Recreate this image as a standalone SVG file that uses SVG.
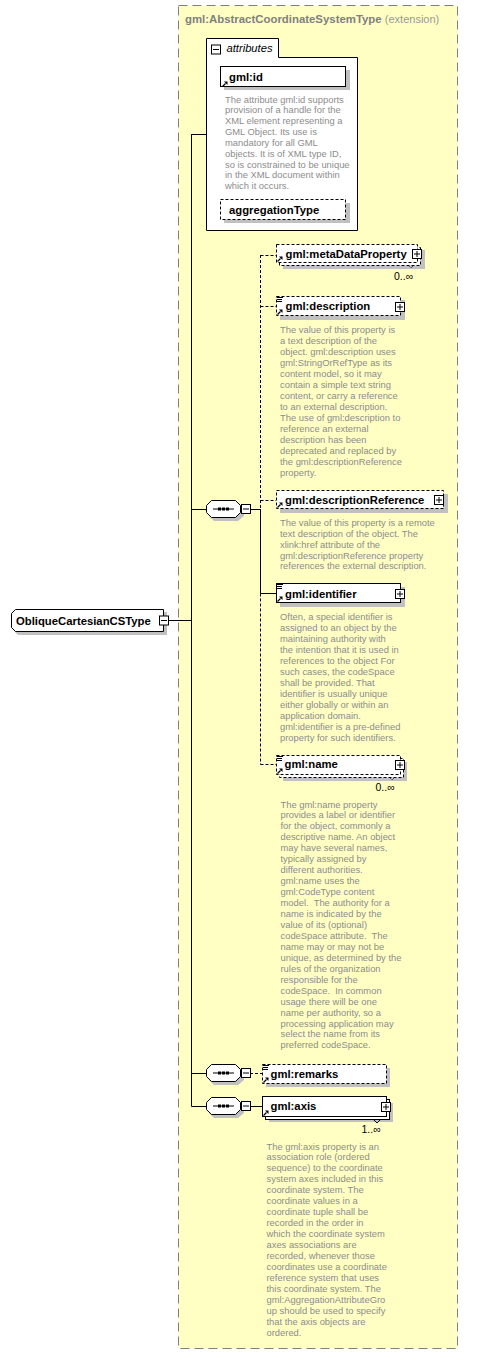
<svg xmlns="http://www.w3.org/2000/svg" xmlns:xlink="http://www.w3.org/1999/xlink" width="492" height="1355" viewBox="0 0 492 1355">
<style>
.doc{font-family:"Liberation Sans",Arial,sans-serif;font-size:9.4px;fill:#8c8c8c}
.lbl{font-family:"Liberation Sans",Arial,sans-serif;font-weight:bold;font-size:11.3px;fill:#000}
.mult{font-family:"Liberation Sans",Arial,sans-serif;font-size:10.5px;fill:#000}
.box{fill:#fff;stroke:#000;stroke-width:1}
.dbox{fill:#fff;stroke:#000;stroke-width:1;stroke-dasharray:3,2}
.sh{fill:#c0c0c0}
.ln{stroke:#000;stroke-width:1;fill:none}
.dl{stroke:#000;stroke-width:1;fill:none;stroke-dasharray:3,2}
</style>
<defs>
<g id="refArrow"><path d="M0.5 5.5 L3.5 2.5" stroke="#000" stroke-width="1.3"/><path d="M2 0.5 L5.5 0.5 L5.5 4 Z" fill="#000"/></g>
<g id="docIcon"><path d="M0 0.5h6M0 2.5h5M0 4.5h5" stroke="#000" stroke-width="1"/></g>
<g id="plus"><rect x="0.5" y="0.5" width="9" height="9" fill="#fff" stroke="#000"/><path d="M2 5h6M5 2v6" stroke="#000"/></g>
<g id="minus"><rect x="0.5" y="0.5" width="9" height="9" fill="#fff" stroke="#000"/><path d="M2 5h6" stroke="#000"/></g>
<g id="seq">
<polygon class="sh" points="8,3 32,3 38,8 38,16 32,21 8,21 3,16 3,8"/>
<polygon class="box" points="5.5,0.5 29.5,0.5 34.5,5.5 34.5,12.5 29.5,17.5 5.5,17.5 0.5,12.5 0.5,5.5"/>
<path d="M7 9H28" stroke="#000"/>
<rect x="12" y="7.5" width="3" height="3" fill="#000"/><rect x="16" y="7.5" width="3" height="3" fill="#000"/><rect x="20" y="7.5" width="3" height="3" fill="#000"/>
<use xlink:href="#minus" x="35" y="4"/>
</g>
</defs>

<g id="extension">
<rect x="178.5" y="5.5" width="279" height="1343" fill="#ffffc4" stroke="#808080" stroke-dasharray="9,5"/>
<text x="185" y="23" font-family="'Liberation Sans',Arial,sans-serif" font-size="11.4px" font-weight="bold" fill="#808080">gml:AbstractCoordinateSystemType <tspan font-weight="normal" font-size="11px" fill="#999">(extension)</tspan></text>
</g>

<g id="connectors">
<path class="ln" d="M168 620.5H191.5M191.5 134V1106.5M191.5 134.5H206M191.5 509.5H206M191.5 1073.5H206M191.5 1106.5H206"/>
<path class="ln" d="M250 509.5H260.5M260.5 509V593.5M260.5 593.5H276"/>
<path class="dl" d="M260.5 255V509M260.5 593.5V764.5"/>
<path class="dl" d="M260.5 255.5H276M260.5 306.5H276M260.5 500.5H276M260.5 764.5H276"/>
<path class="dl" d="M250 1073.5H262"/>
<path class="ln" d="M250 1106.5H262"/>
</g>

<g id="ObliqueCartesianCSType">
<polygon class="sh" points="18,612 167,612 167,635 18,635 14,631 14,616"/>
<polygon class="box" points="15.5,609.5 163.5,609.5 163.5,631.5 15.5,631.5 11.5,627.5 11.5,613.5"/>
<text class="lbl" x="16" y="624.5">ObliqueCartesianCSType</text>
<use xlink:href="#minus" x="159" y="615.5"/>
</g>

<g id="attributes">
<polygon class="box" points="206.5,38.5 278.5,38.5 278.5,57.5 357.5,57.5 357.5,230.5 206.5,230.5"/>
<use xlink:href="#minus" x="211" y="44.5"/>
<text x="226.5" y="52" font-family="'Liberation Sans',Arial,sans-serif" font-size="11.2px" font-style="italic" fill="#000">attributes</text>
</g>

<g id="gml_id">
<rect class="sh" x="224" y="70" width="126" height="20"/>
<rect class="box" x="220.5" y="66.5" width="125" height="20"/>
<use xlink:href="#refArrow" x="222" y="81"/>
<text class="lbl" x="229" y="80.5">gml:id</text>
<text class="doc" x="225" y="102.5"><tspan x="225">The attribute gml:id supports</tspan><tspan x="225" dy="10.85">provision of a handle for the</tspan><tspan x="225" dy="10.85">XML element representing a</tspan><tspan x="225" dy="10.85">GML Object. Its use is</tspan><tspan x="225" dy="10.85">mandatory for all GML</tspan><tspan x="225" dy="10.85">objects. It is of XML type ID,</tspan><tspan x="225" dy="10.85">so is constrained to be unique</tspan><tspan x="225" dy="10.85">in the XML document within</tspan><tspan x="225" dy="10.85">which it occurs.</tspan></text>
</g>

<g id="aggregationType">
<rect class="sh" x="224" y="203" width="126" height="20"/>
<rect class="dbox" x="220.5" y="199.5" width="125" height="20"/>
<text class="lbl" x="229" y="213.5">aggregationType</text>
</g>

<g id="sequence1"><use xlink:href="#seq" x="206" y="500"/></g>
<g id="sequence2"><use xlink:href="#seq" x="206" y="1064"/></g>
<g id="sequence3"><use xlink:href="#seq" x="206" y="1097"/></g>

<g id="metaDataProperty">
<rect class="sh" x="283" y="250" width="142" height="19"/>
<rect class="dbox" x="279.5" y="247.5" width="141" height="18"/>
<rect class="dbox" x="276.5" y="244.5" width="141" height="18"/>
<use xlink:href="#refArrow" x="277" y="256"/>
<text class="lbl" x="285.5" y="257.5">gml:metaDataProperty</text>
<use xlink:href="#plus" x="412" y="249"/>
<path d="M408 265l3 3l3-3" stroke="#000" fill="none" stroke-dasharray="1,1"/>
<text class="mult" x="394" y="280">0..∞</text>
</g>

<g id="description">
<rect class="sh" x="280" y="300" width="125" height="20"/>
<rect class="dbox" x="276.5" y="296.5" width="124" height="19"/>
<use xlink:href="#docIcon" x="277" y="297"/>
<use xlink:href="#refArrow" x="277" y="309"/>
<text class="lbl" x="285.5" y="310">gml:description</text>
<use xlink:href="#plus" x="395" y="302"/>
<text class="doc" x="280" y="332.8"><tspan x="280">The value of this property is</tspan><tspan x="280" dy="11">a text description of the</tspan><tspan x="280" dy="11">object. gml:description uses</tspan><tspan x="280" dy="11">gml:StringOrRefType as its</tspan><tspan x="280" dy="11">content model, so it may</tspan><tspan x="280" dy="11">contain a simple text string</tspan><tspan x="280" dy="11">content, or carry a reference</tspan><tspan x="280" dy="11">to an external description.</tspan><tspan x="280" dy="11">The use of gml:description to</tspan><tspan x="280" dy="11">reference an external</tspan><tspan x="280" dy="11">description has been</tspan><tspan x="280" dy="11">deprecated and replaced by</tspan><tspan x="280" dy="11">the gml:descriptionReference</tspan><tspan x="280" dy="11">property.</tspan></text>
</g>

<g id="descriptionReference">
<rect class="sh" x="280" y="494" width="168" height="19"/>
<rect class="dbox" x="276.5" y="490.5" width="167" height="18"/>
<use xlink:href="#refArrow" x="277" y="502"/>
<text class="lbl" x="285" y="503.5">gml:descriptionReference</text>
<use xlink:href="#plus" x="434" y="495"/>
<text class="doc" x="280" y="525.8"><tspan x="280">The value of this property is a remote</tspan><tspan x="280" dy="10.9">text description of the object. The</tspan><tspan x="280" dy="10.9">xlink:href attribute of the</tspan><tspan x="280" dy="10.9">gml:descriptionReference property</tspan><tspan x="280" dy="10.9">references the external description.</tspan></text>
</g>

<g id="identifier">
<rect class="sh" x="280" y="587" width="125" height="20"/>
<rect class="box" x="276.5" y="583.5" width="124" height="19"/>
<use xlink:href="#docIcon" x="277" y="584"/>
<use xlink:href="#refArrow" x="277" y="596"/>
<text class="lbl" x="285" y="597.5">gml:identifier</text>
<use xlink:href="#plus" x="395" y="589"/>
<text class="doc" x="280" y="619.5"><tspan x="280">Often, a special identifier is</tspan><tspan x="280" dy="11.03">assigned to an object by the</tspan><tspan x="280" dy="11.03">maintaining authority with</tspan><tspan x="280" dy="11.03">the intention that it is used in</tspan><tspan x="280" dy="11.03">references to the object For</tspan><tspan x="280" dy="11.03">such cases, the codeSpace</tspan><tspan x="280" dy="11.03">shall be provided. That</tspan><tspan x="280" dy="11.03">identifier is usually unique</tspan><tspan x="280" dy="11.03">either globally or within an</tspan><tspan x="280" dy="11.03">application domain.</tspan><tspan x="280" dy="11.03">gml:identifier is a pre-defined</tspan><tspan x="280" dy="11.03">property for such identifiers.</tspan></text>
</g>

<g id="name">
<rect class="sh" x="283" y="762" width="124" height="19"/>
<rect class="dbox" x="279.5" y="758.5" width="124" height="19"/>
<rect class="dbox" x="276.5" y="755.5" width="124" height="19"/>
<use xlink:href="#docIcon" x="277" y="756"/>
<use xlink:href="#refArrow" x="277" y="768"/>
<text class="lbl" x="284.5" y="768">gml:name</text>
<use xlink:href="#plus" x="395" y="760"/>
<path d="M389 777l3 3l3-3" stroke="#000" fill="none" stroke-dasharray="1,1"/>
<text class="mult" x="375.5" y="791">0..∞</text>
<text class="doc" x="280.5" y="807.5"><tspan x="280.5">The gml:name property</tspan><tspan x="280.5" dy="10.95">provides a label or identifier</tspan><tspan x="280.5" dy="10.95">for the object, commonly a</tspan><tspan x="280.5" dy="10.95">descriptive name. An object</tspan><tspan x="280.5" dy="10.95">may have several names,</tspan><tspan x="280.5" dy="10.95">typically assigned by</tspan><tspan x="280.5" dy="10.95">different authorities.</tspan><tspan x="280.5" dy="10.95">gml:name uses the</tspan><tspan x="280.5" dy="10.95">gml:CodeType content</tspan><tspan x="280.5" dy="10.95" xml:space="preserve">model.  The authority for a</tspan><tspan x="280.5" dy="10.95">name is indicated by the</tspan><tspan x="280.5" dy="10.95">value of its (optional)</tspan><tspan x="280.5" dy="10.95" xml:space="preserve">codeSpace attribute.  The</tspan><tspan x="280.5" dy="10.95">name may or may not be</tspan><tspan x="280.5" dy="10.95">unique, as determined by the</tspan><tspan x="280.5" dy="10.95">rules of the organization</tspan><tspan x="280.5" dy="10.95">responsible for the</tspan><tspan x="280.5" dy="10.95" xml:space="preserve">codeSpace.  In common</tspan><tspan x="280.5" dy="10.95">usage there will be one</tspan><tspan x="280.5" dy="10.95">name per authority, so a</tspan><tspan x="280.5" dy="10.95">processing application may</tspan><tspan x="280.5" dy="10.95">select the name from its</tspan><tspan x="280.5" dy="10.95">preferred codeSpace.</tspan></text>
</g>

<g id="remarks">
<rect class="sh" x="266" y="1068" width="124" height="19"/>
<rect class="dbox" x="262.5" y="1064.5" width="124" height="19"/>
<use xlink:href="#docIcon" x="263" y="1065"/>
<use xlink:href="#refArrow" x="263" y="1077"/>
<text class="lbl" x="270.5" y="1077.5">gml:remarks</text>
</g>

<g id="axis">
<rect class="sh" x="269" y="1103" width="124" height="19"/>
<rect class="box" x="265.5" y="1099.5" width="124" height="20"/>
<rect class="box" x="262.5" y="1096.5" width="124" height="20"/>
<use xlink:href="#refArrow" x="263" y="1110"/>
<text class="lbl" x="270.5" y="1110">gml:axis</text>
<use xlink:href="#plus" x="381" y="1102"/>
<path d="M373 1119l4 4l4-4" stroke="#000" fill="none"/>
<text class="mult" x="361.5" y="1133">1..∞</text>
<text class="doc" x="266.5" y="1149.5"><tspan x="266.5">The gml:axis property is an</tspan><tspan x="266.5" dy="10.98">association role (ordered</tspan><tspan x="266.5" dy="10.98">sequence) to the coordinate</tspan><tspan x="266.5" dy="10.98">system axes included in this</tspan><tspan x="266.5" dy="10.98">coordinate system. The</tspan><tspan x="266.5" dy="10.98">coordinate values in a</tspan><tspan x="266.5" dy="10.98">coordinate tuple shall be</tspan><tspan x="266.5" dy="10.98">recorded in the order in</tspan><tspan x="266.5" dy="10.98">which the coordinate system</tspan><tspan x="266.5" dy="10.98">axes associations are</tspan><tspan x="266.5" dy="10.98">recorded, whenever those</tspan><tspan x="266.5" dy="10.98">coordinates use a coordinate</tspan><tspan x="266.5" dy="10.98">reference system that uses</tspan><tspan x="266.5" dy="10.98">this coordinate system. The</tspan><tspan x="266.5" dy="10.98">gml:AggregationAttributeGro</tspan><tspan x="266.5" dy="10.98">up should be used to specify</tspan><tspan x="266.5" dy="10.98">that the axis objects are</tspan><tspan x="266.5" dy="10.98">ordered.</tspan></text>
</g>
</svg>
